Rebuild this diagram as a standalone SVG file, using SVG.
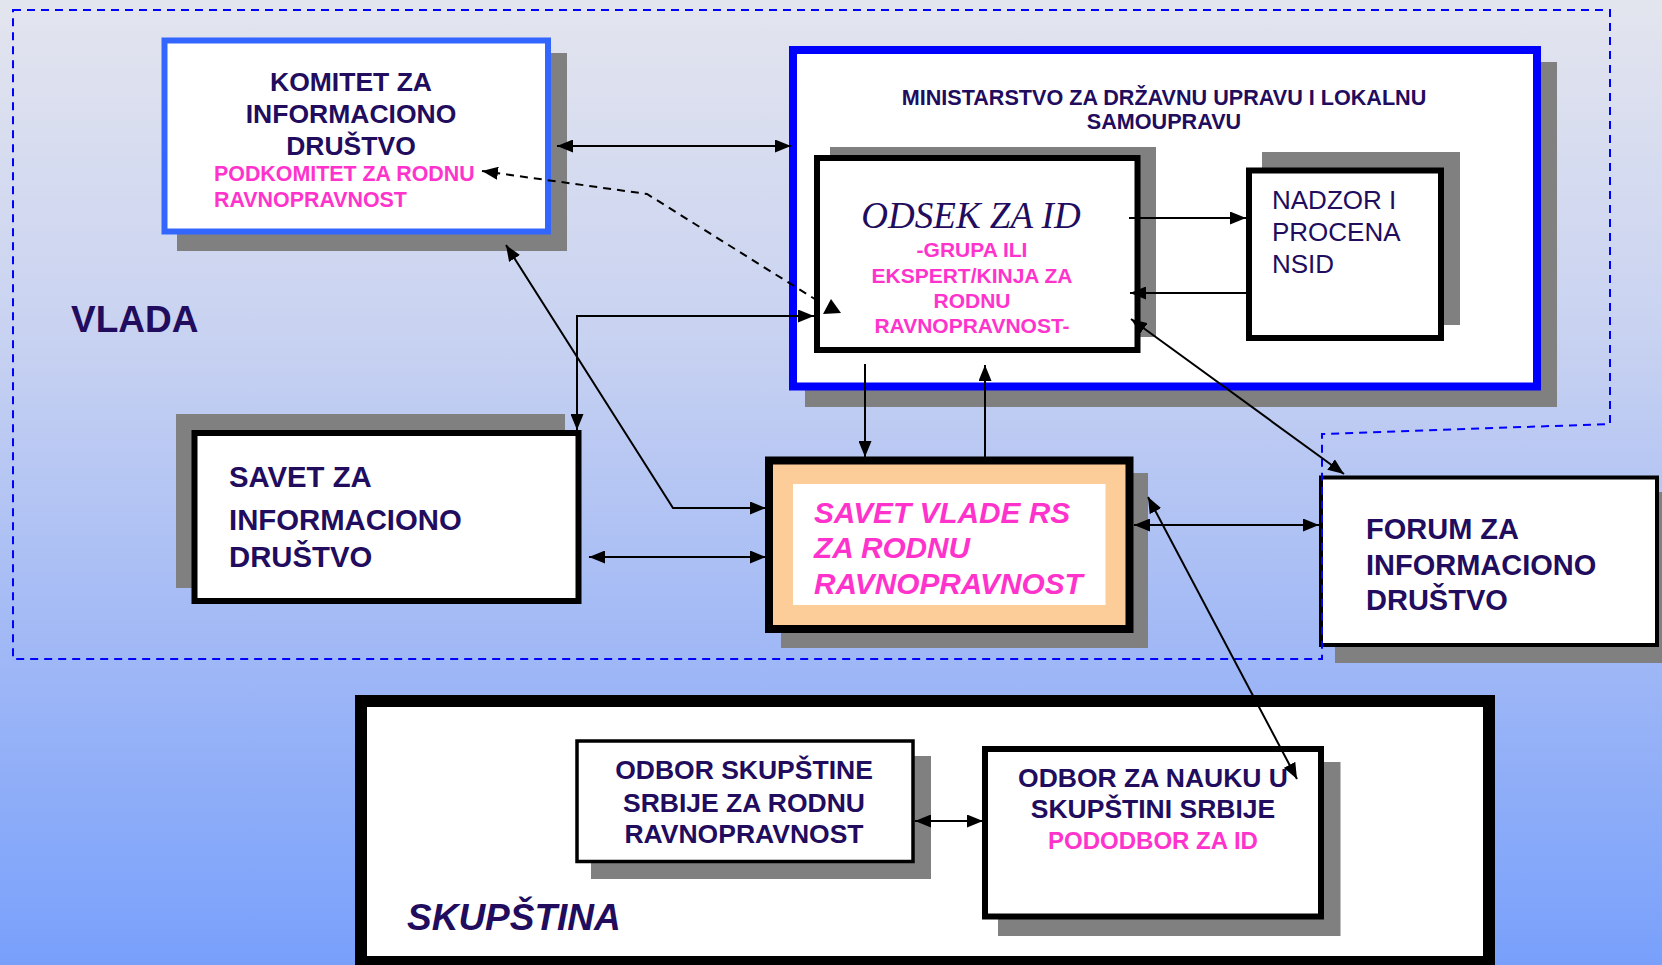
<svg xmlns="http://www.w3.org/2000/svg" width="1662" height="965" viewBox="0 0 1662 965">
<defs>
<linearGradient id="bg" x1="0" y1="0" x2="0" y2="1">
<stop offset="0" stop-color="#e3e5ee"/>
<stop offset="0.35" stop-color="#c8d2f1"/>
<stop offset="0.7" stop-color="#9db6f6"/>
<stop offset="1" stop-color="#78a0fb"/>
</linearGradient>
<marker id="ah" viewBox="0 0 16 13" refX="16" refY="6.5" markerWidth="16" markerHeight="13" markerUnits="userSpaceOnUse" orient="auto-start-reverse">
<path d="M0,0 L16,6.5 L0,13 z" fill="#000"/>
</marker>
<style>
.sh{fill:#808080}
.bx{fill:#fff;stroke:#000}
.t{font-family:"Liberation Sans",Arial,sans-serif;font-weight:bold;fill:#210c5e}
.p{font-family:"Liberation Sans",Arial,sans-serif;font-weight:bold;fill:#ff33cc}
.c{fill:none;stroke:#000;stroke-width:2}
.m2{marker-start:url(#ah);marker-end:url(#ah)}
.m1{marker-end:url(#ah)}
</style>
</defs>
<rect x="0" y="0" width="1662" height="965" fill="url(#bg)"/>

<g id="komitet">
<rect class="sh" x="177" y="53" width="390" height="198"/>
<rect x="164.5" y="40.5" width="383.5" height="191" fill="#fff" stroke="#3366ff" stroke-width="6"/>
<text class="t" font-size="26.5" text-anchor="middle"><tspan x="351" y="91">KOMITET ZA</tspan><tspan x="351" y="123">INFORMACIONO</tspan><tspan x="351" y="155">DRUŠTVO</tspan></text>
<text class="p" font-size="21.4"><tspan x="214" y="181">PODKOMITET ZA RODNU</tspan><tspan x="214" y="207">RAVNOPRAVNOST</tspan></text>
</g>

<text id="vlada" class="t" font-size="37" x="71" y="332">VLADA</text>

<g id="ministarstvo">
<rect class="sh" x="805" y="62" width="752" height="345"/>
<rect x="793" y="50" width="744" height="336.5" fill="#fff" stroke="#0000ff" stroke-width="8"/>
<text class="t" font-size="21.6" text-anchor="middle"><tspan x="1164" y="105">MINISTARSTVO ZA DRŽAVNU UPRAVU I LOKALNU</tspan><tspan x="1164" y="129">SAMOUPRAVU</tspan></text>
</g>

<g id="odsek">
<rect class="sh" x="830" y="147" width="326" height="190"/>
<rect class="bx" x="817" y="158" width="320.5" height="192" stroke-width="6"/>
<text x="971" y="228" font-family="'Liberation Serif','Times New Roman',serif" font-style="italic" font-size="37" fill="#210c5e" text-anchor="middle">ODSEK ZA ID</text>
<text class="p" font-size="21" text-anchor="middle"><tspan x="972" y="257">-GRUPA ILI</tspan><tspan x="972" y="283">EKSPERT/KINJA ZA</tspan><tspan x="972" y="308">RODNU</tspan><tspan x="972" y="333">RAVNOPRAVNOST-</tspan></text>
</g>

<g id="nadzor">
<rect class="sh" x="1262" y="152" width="198" height="173"/>
<rect class="bx" x="1249" y="170.5" width="192" height="167.5" stroke-width="6"/>
<text font-family="'Liberation Sans',Arial,sans-serif" font-size="26" fill="#210c5e"><tspan x="1272" y="209">NADZOR I</tspan><tspan x="1272" y="241">PROCENA</tspan><tspan x="1272" y="273">NSID</tspan></text>
</g>

<g id="savet-id">
<rect class="sh" x="176" y="414" width="389" height="174"/>
<rect class="bx" x="194.5" y="433" width="384" height="168" stroke-width="6"/>
<text class="t" font-size="29.3"><tspan x="229" y="487">SAVET ZA</tspan><tspan x="229" y="530">INFORMACIONO</tspan><tspan x="229" y="567">DRUŠTVO</tspan></text>
</g>

<g id="savet-vlade">
<rect class="sh" x="781" y="473" width="367" height="175"/>
<rect x="769" y="460.5" width="360.5" height="168.5" fill="#fccc99" stroke="#000" stroke-width="8"/>
<rect x="793" y="484" width="312.5" height="121" fill="#fff"/>
<text class="p" font-size="29.8" font-style="italic"><tspan x="814" y="523">SAVET VLADE RS</tspan><tspan x="814" y="558">ZA RODNU</tspan><tspan x="814" y="594">RAVNOPRAVNOST</tspan></text>
</g>

<g id="forum">
<rect class="sh" x="1335" y="492" width="330" height="171"/>
<rect class="bx" x="1321" y="477.5" width="336" height="167.5" stroke-width="4"/>
<text class="t" font-size="29"><tspan x="1366" y="539">FORUM ZA</tspan><tspan x="1366" y="575">INFORMACIONO</tspan><tspan x="1366" y="610">DRUŠTVO</tspan></text>
</g>

<path id="vlada-boundary" d="M13,10 H1610 V424 L1322,434 V659 H13 Z" fill="none" stroke="#0000ff" stroke-width="2" stroke-dasharray="8,6"/>

<g id="skupstina">
<rect class="bx" x="361" y="701" width="1128" height="261" stroke-width="12"/>
<text class="t" font-size="37" font-style="italic" x="407" y="930">SKUPŠTINA</text>
</g>

<g id="odbor-rod">
<rect class="sh" x="591" y="756" width="340" height="123"/>
<rect class="bx" x="577" y="741" width="336" height="120.5" stroke-width="3.5"/>
<text class="t" font-size="26.5" text-anchor="middle"><tspan x="744" y="779">ODBOR SKUPŠTINE</tspan><tspan x="744" y="812">SRBIJE ZA RODNU</tspan><tspan x="744" y="843">RAVNOPRAVNOST</tspan></text>
</g>

<g id="odbor-nauka">
<rect class="sh" x="998" y="762" width="342.5" height="174"/>
<rect class="bx" x="985" y="749" width="336" height="167.5" stroke-width="6"/>
<text class="t" font-size="26.5" text-anchor="middle"><tspan x="1153" y="787">ODBOR ZA NAUKU U</tspan><tspan x="1153" y="818">SKUPŠTINI SRBIJE</tspan></text>
<text class="p" font-size="24" text-anchor="middle" x="1153" y="849">PODODBOR ZA ID</text>
</g>

<g id="connectors">
<path class="c m2" d="M557,146 H791"/>
<path class="c m1" d="M818,301 L647,194 L482,171" stroke-dasharray="8,6"/>
<polygon points="831,299 823,314 841,313" fill="#000"/>
<path class="c m2" d="M506,245 L673,508 H766"/>
<path class="c m2" d="M814,316 H577 V430"/>
<path class="c m2" d="M589,557 H766"/>
<path class="c m1" d="M865,364 V457"/>
<path class="c m1" d="M985,457 V365"/>
<path class="c m1" d="M1129,218 H1246"/>
<path class="c m1" d="M1246,293 H1130"/>
<path class="c m2" d="M1131,319 L1344,474"/>
<path class="c m2" d="M1134,525 H1319"/>
<path class="c m2" d="M1148,497 L1297,779"/>
<path class="c m2" d="M915,821 H983"/>
</g>
</svg>
